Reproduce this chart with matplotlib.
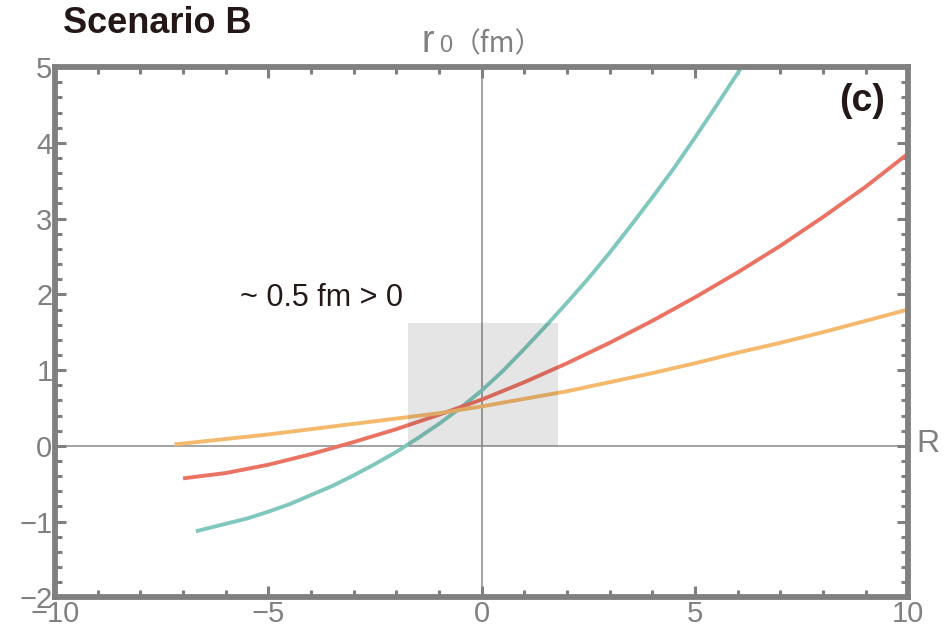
import matplotlib
matplotlib.use("Agg")
import matplotlib.pyplot as plt
from matplotlib.patches import Rectangle
from matplotlib.ticker import MultipleLocator

# -----------------------------
# Datos
# -----------------------------
R_teal = [-6.7, -6.5, -6, -5.5, -5, -4.5, -4, -3.5, -3, -2.5, -2, -1.5, -1, -0.5,
          0, 0.5, 1, 1.5, 2, 2.5, 3, 3.5, 4, 4.5, 5, 5.5, 6, 6.1]
r0_teal = [-1.13, -1.10, -1.03, -0.96, -0.87, -0.77, -0.65, -0.53, -0.39, -0.24, -0.08, 0.10, 0.29, 0.50,
           0.73, 0.99, 1.28, 1.58, 1.89, 2.21, 2.55, 2.91, 3.28, 3.66, 4.07, 4.49, 4.92, 5.01]

R_red = [-7, -6, -5, -4, -3, -2, -1, 0, 1, 2, 3, 4, 5, 6, 7, 8, 9, 10]
r0_red = [-0.43, -0.36, -0.25, -0.11, 0.05, 0.22, 0.41, 0.61, 0.84, 1.09, 1.36, 1.65, 1.96, 2.29, 2.64, 3.02, 3.42, 3.86]

R_orange = [-7.2, -7, -6, -5, -4, -3, -2, -1, 0, 1, 2, 3, 4, 5, 6, 7, 8, 9, 10]
r0_orange = [0.02, 0.03, 0.09, 0.15, 0.22, 0.29, 0.36, 0.43, 0.52, 0.62, 0.72, 0.84, 0.96, 1.09, 1.23, 1.36, 1.50, 1.65, 1.80]

zona_R = (-1.72, 1.80)
zona_r0 = (0.0, 1.62)

x_ticks = [-10, -5, 0, 5, 10]
x_labels = ["\u221210", "\u22125", "0", "5", "10"]
y_ticks = [-2, -1, 0, 1, 2, 3, 4, 5]
y_labels = ["\u22122", "\u22121", "0", "1", "2", "3", "4", "5"]

colores = {"teal": "#80c8be", "red": "#eb7364", "orange": "#f5b96e"}
gris = "#808080"
negro = "#231815"
fuente = "Liberation Sans"

fig = plt.figure(figsize=(9.51, 6.34), dpi=100)
ax = fig.add_axes([0.058, 0.058, 0.897, 0.836])

# ejes cartesianos
ax.axhline(0, color="#8a8a8a", lw=1.1, zorder=1)
ax.axvline(0, color="#8a8a8a", lw=1.1, zorder=1)

# curvas
ax.plot(R_teal, r0_teal, color=colores["teal"], lw=2.8, zorder=2, solid_capstyle="butt")
ax.plot(R_red, r0_red, color=colores["red"], lw=2.8, zorder=2, solid_capstyle="butt")
ax.plot(R_orange, r0_orange, color=colores["orange"], lw=2.8, zorder=2, solid_capstyle="butt")

# zona sombreada encima de las curvas
ax.add_patch(Rectangle((zona_R[0], zona_r0[0]), zona_R[1] - zona_R[0], zona_r0[1] - zona_r0[0],
                       color=negro, alpha=0.11, lw=0, zorder=3))

ax.set_xlim(-10, 10)
ax.set_ylim(-2, 5)

# -----------------------------
# Marco y ticks estilo Mathematica
# -----------------------------
for s in ax.spines.values():
    s.set_color(gris)
    s.set_linewidth(4.2)
ax.set_xticks(x_ticks)
ax.set_xticklabels(x_labels)
ax.set_yticks(y_ticks)
ax.set_yticklabels(y_labels)
ax.xaxis.set_minor_locator(MultipleLocator(1))
ax.yaxis.set_minor_locator(MultipleLocator(0.2))
ax.tick_params(which="both", direction="in", color=gris, width=2.2,
               top=True, right=True, labelcolor=gris, labelsize=21, pad=2,
               labelfontfamily=fuente)
ax.tick_params(which="major", length=8)
ax.tick_params(which="minor", length=5)

# -----------------------------
# Textos
# -----------------------------
fig.text(0.066, 0.963, "Scenario B", fontsize=26, fontweight="bold", color=negro,
         family=fuente, va="center", ha="left")
fig.text(0.443, 0.918, "r", fontsize=27, color=gris, family=fuente, va="baseline", ha="left")
fig.text(0.4615, 0.918, "0", fontsize=17, color=gris, family=fuente, va="baseline", ha="left")
fig.text(0.476, 0.918, "\uff08fm\uff09", fontsize=20, color=gris,
         family=["Noto Sans CJK SC", "DejaVu Sans"], va="baseline", ha="left")
fig.text(0.964, 0.3, "R", fontsize=23, color=gris, family=fuente, va="center", ha="left")
ax.text(-5.66, 1.95, "~ 0.5 fm > 0", fontsize=22, color=negro, family=fuente,
        va="center", ha="left")
ax.text(9.45, 4.55, "(c)", fontsize=27, fontweight="bold", color=negro, family=fuente,
        va="center", ha="right")

fig.savefig("out.png", dpi=100)
